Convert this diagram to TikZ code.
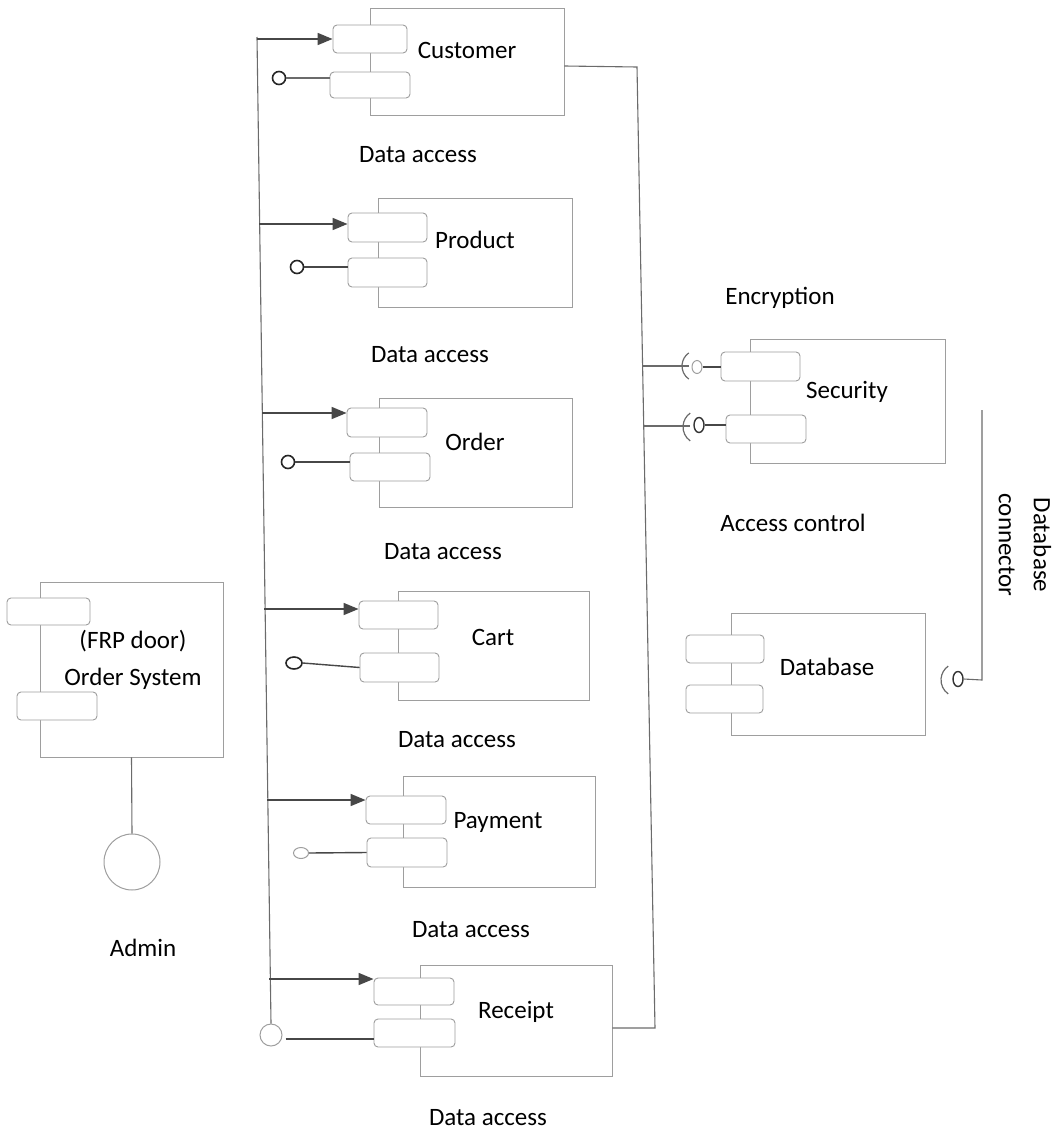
\documentclass[tikz,border=0pt]{standalone}
\usepackage{fontspec}
\setmainfont{Carlito}
\usetikzlibrary{arrows.meta,fit,shapes.geometric}
\definecolor{boxgray}{gray}{0.62}
\definecolor{wiregray}{gray}{0.42}
\definecolor{arrowgray}{gray}{0.28}
\begin{document}
\begin{tikzpicture}[x=1pt,y=-1pt,
  every node/.style={font=\fontsize{25}{30}\selectfont, inner sep=0pt},
  body/.style={draw=boxgray, line width=0.9pt, fill=white, inner sep=0pt},
  port/.style={draw=boxgray, line width=0.9pt, fill=white, rounded corners=4pt, inner sep=0pt},
  wire/.style={draw=wiregray, line width=1.1pt},
  darkwire/.style={draw=arrowgray, line width=1.4pt},
  req/.style={draw=arrowgray, line width=1.7pt, -{Triangle[length=15pt,width=12pt]}},
  lolly/.style={draw=black!85, line width=1.6pt, circle, minimum size=13pt},
  faint/.style={draw=boxgray, line width=1pt},
  socket/.style={draw=wiregray, line width=1.2pt}
]
\useasboundingbox (0,0) rectangle (1062,1135);

% ---------------- Customer ----------------
\node[body, fit={(370,8) (564,115)}] (cust) {};
\node[port, fit={(333,25) (407,53)}] (custp1) {};
\node[port, fit={(330,72) (410,98)}] (custp2) {};
\node at (467,50) (custt) {Customer};
\node at (418,155) (da1) {Data access};

% ---------------- Product ----------------
\node[body, fit={(378,198) (572,307)}] (prod) {};
\node[port, fit={(348,213) (427,242)}] (prodp1) {};
\node[port, fit={(348,258) (427,287)}] (prodp2) {};
\node at (475,240) (prodt) {Product};
\node at (430,355) (da2) {Data access};

% ---------------- Order ----------------
\node[body, fit={(379,398) (572,507)}] (ord) {};
\node[port, fit={(347,408) (427,437)}] (ordp1) {};
\node[port, fit={(350,453) (430,481)}] (ordp2) {};
\node at (475,442) (ordt) {Order};
\node at (443,552) (da3) {Data access};

% ---------------- Cart ----------------
\node[body, fit={(398,591) (589,700)}] (cart) {};
\node[port, fit={(359,601) (438,629)}] (cartp1) {};
\node[port, fit={(360,653) (439,682)}] (cartp2) {};
\node at (493,637) (cartt) {Cart};
\node at (457,740) (da4) {Data access};

% ---------------- Payment ----------------
\node[body, fit={(403,776) (595,887)}] (pay) {};
\node[port, fit={(366,796) (446,824)}] (payp1) {};
\node[port, fit={(367,838) (447,867)}] (payp2) {};
\node at (498,822) (payt) {Payment};
\node at (471,930) (da5) {Data access};

% ---------------- Receipt ----------------
\node[body, fit={(420,965) (612,1076)}] (rec) {};
\node[port, fit={(374,978) (454,1005)}] (recp1) {};
\node[port, fit={(374,1019) (455,1047)}] (recp2) {};
\node at (516,1012) (rect) {Receipt};
\node at (488,1118) (da6) {Data access};

% ---------------- left bus with required interfaces ----------------
\node[circle, faint, minimum size=22pt] (rcirc) at (271,1035) {};
\coordinate (ltop) at (257,37);
\draw[wire] (ltop) -- (rcirc.north);
\coordinate (b1) at (257,39);
\coordinate (b2) at (259,224);
\coordinate (b3) at (262,413);
\coordinate (b4) at (264,609);
\coordinate (b5) at (267,800);
\coordinate (b6) at (269,979);
\draw[req] (b1) -- (b1 -| custp1.west);
\draw[req] (b2) -- (b2 -| prodp1.west);
\draw[req] (b3) -- (b3 -| ordp1.west);
\draw[req] (b4) -- (b4 -| cartp1.west);
\draw[req] (b5) -- (b5 -| payp1.west);
\draw[req] (b6) -- (b6 -| recp1.west);

% provided interfaces (lollipops)
\node[lolly] (custl) at (279,78) {};
\draw[wire] (custl.east) -- (custl.east -| custp2.west);
\node[lolly] (prodl) at (297,267) {};
\draw[darkwire] (prodl.east) -- (prodl.east -| prodp2.west);
\node[lolly] (ordl) at (288,462) {};
\draw[darkwire] (ordl.east) -- (ordl.east -| ordp2.west);
\node[lolly, ellipse, minimum width=16pt, minimum height=12pt] (cartl) at (294,663) {};
\draw[darkwire] (cartl.east) -- (cartp2.west);
\node[ellipse, faint, minimum width=15pt, minimum height=11pt] (payl) at (301,853) {};
\draw[darkwire] (payl.east) -- (payp2.west);
\draw[darkwire] (rcirc.east) ++(3,4) coordinate (rl) -- (rl -| recp2.west);

% ---------------- right bus ----------------
\coordinate (rtop) at (637,67);
\coordinate (rbot) at (655,1028);
\draw[wire] (cust.east |- 0,66) -- (rtop) -- (rbot) -- (rbot -| rec.east);

% ---------------- Security ----------------
\node[body, fit={(750,339) (945,463)}] (sec) {};
\node[port, fit={(721,352) (800,381)}] (secp1) {};
\node[port, fit={(726,415) (806,443)}] (secp2) {};
\node at (847,392) (sect) {Security};
\node at (780,298) (enc) {Encryption};
\node at (793,523) (acc) {Access control};

\coordinate (s1) at (643,366);
\coordinate (s2) at (644,426);
\draw[wire] (s1) -- (689,366);
\draw[socket] (698,366) +(125:16) arc[start angle=125, end angle=235, radius=16];
\node[ellipse, faint, minimum width=10pt, minimum height=13pt] (sc1) at (697,367) {};
\draw[darkwire] (sc1.east) -- (sc1.east -| secp1.west);
\draw[wire] (s2) -- (690,426);
\draw[socket] (700,427) +(125:17) arc[start angle=125, end angle=235, radius=17];
\node[ellipse, draw=black!80, line width=1.4pt, minimum width=10pt, minimum height=15pt] (sc2) at (699,425) {};
\draw[darkwire] (sc2.east) -- (sc2.east -| secp2.west);

% ---------------- Database ----------------
\node[body, fit={(731,613) (925,735)}] (db) {};
\node[port, fit={(686,635) (764,663)}] (dbp1) {};
\node[port, fit={(686,685) (763,713)}] (dbp2) {};
\node at (827,667) (dbt) {Database};

\node[ellipse, draw=black!80, line width=1.4pt, minimum width=10pt, minimum height=15pt] (dbs) at (958,679) {};
\draw[socket] (958,680) +(125:17) arc[start angle=125, end angle=235, radius=17];
\coordinate (dctop) at (982,410);
\draw[wire] (dctop) -- (982,680) -- (dbs.east);
\node[rotate=-90, align=center, font=\fontsize{25}{35}\selectfont] (dbc) at (1025,545) {Database\\connector};

% ---------------- Order System / Admin ----------------
\node[body, fit={(40,582) (223,757)}] (osys) {};
\node[port, fit={(7,598) (90,625)}] (osp1) {};
\node[port, fit={(17,692) (97,720)}] (osp2) {};
\node[align=center, font=\fontsize{25}{37}\selectfont] (ost) at (133,660) {(FRP door)\\Order System};
\node[circle, faint, minimum size=56pt] (admin) at (132,862) {};
\draw[wire] (osys.south) -- (admin.north);
\node at (143,948) (admint) {Admin};
\end{tikzpicture}
\end{document}
